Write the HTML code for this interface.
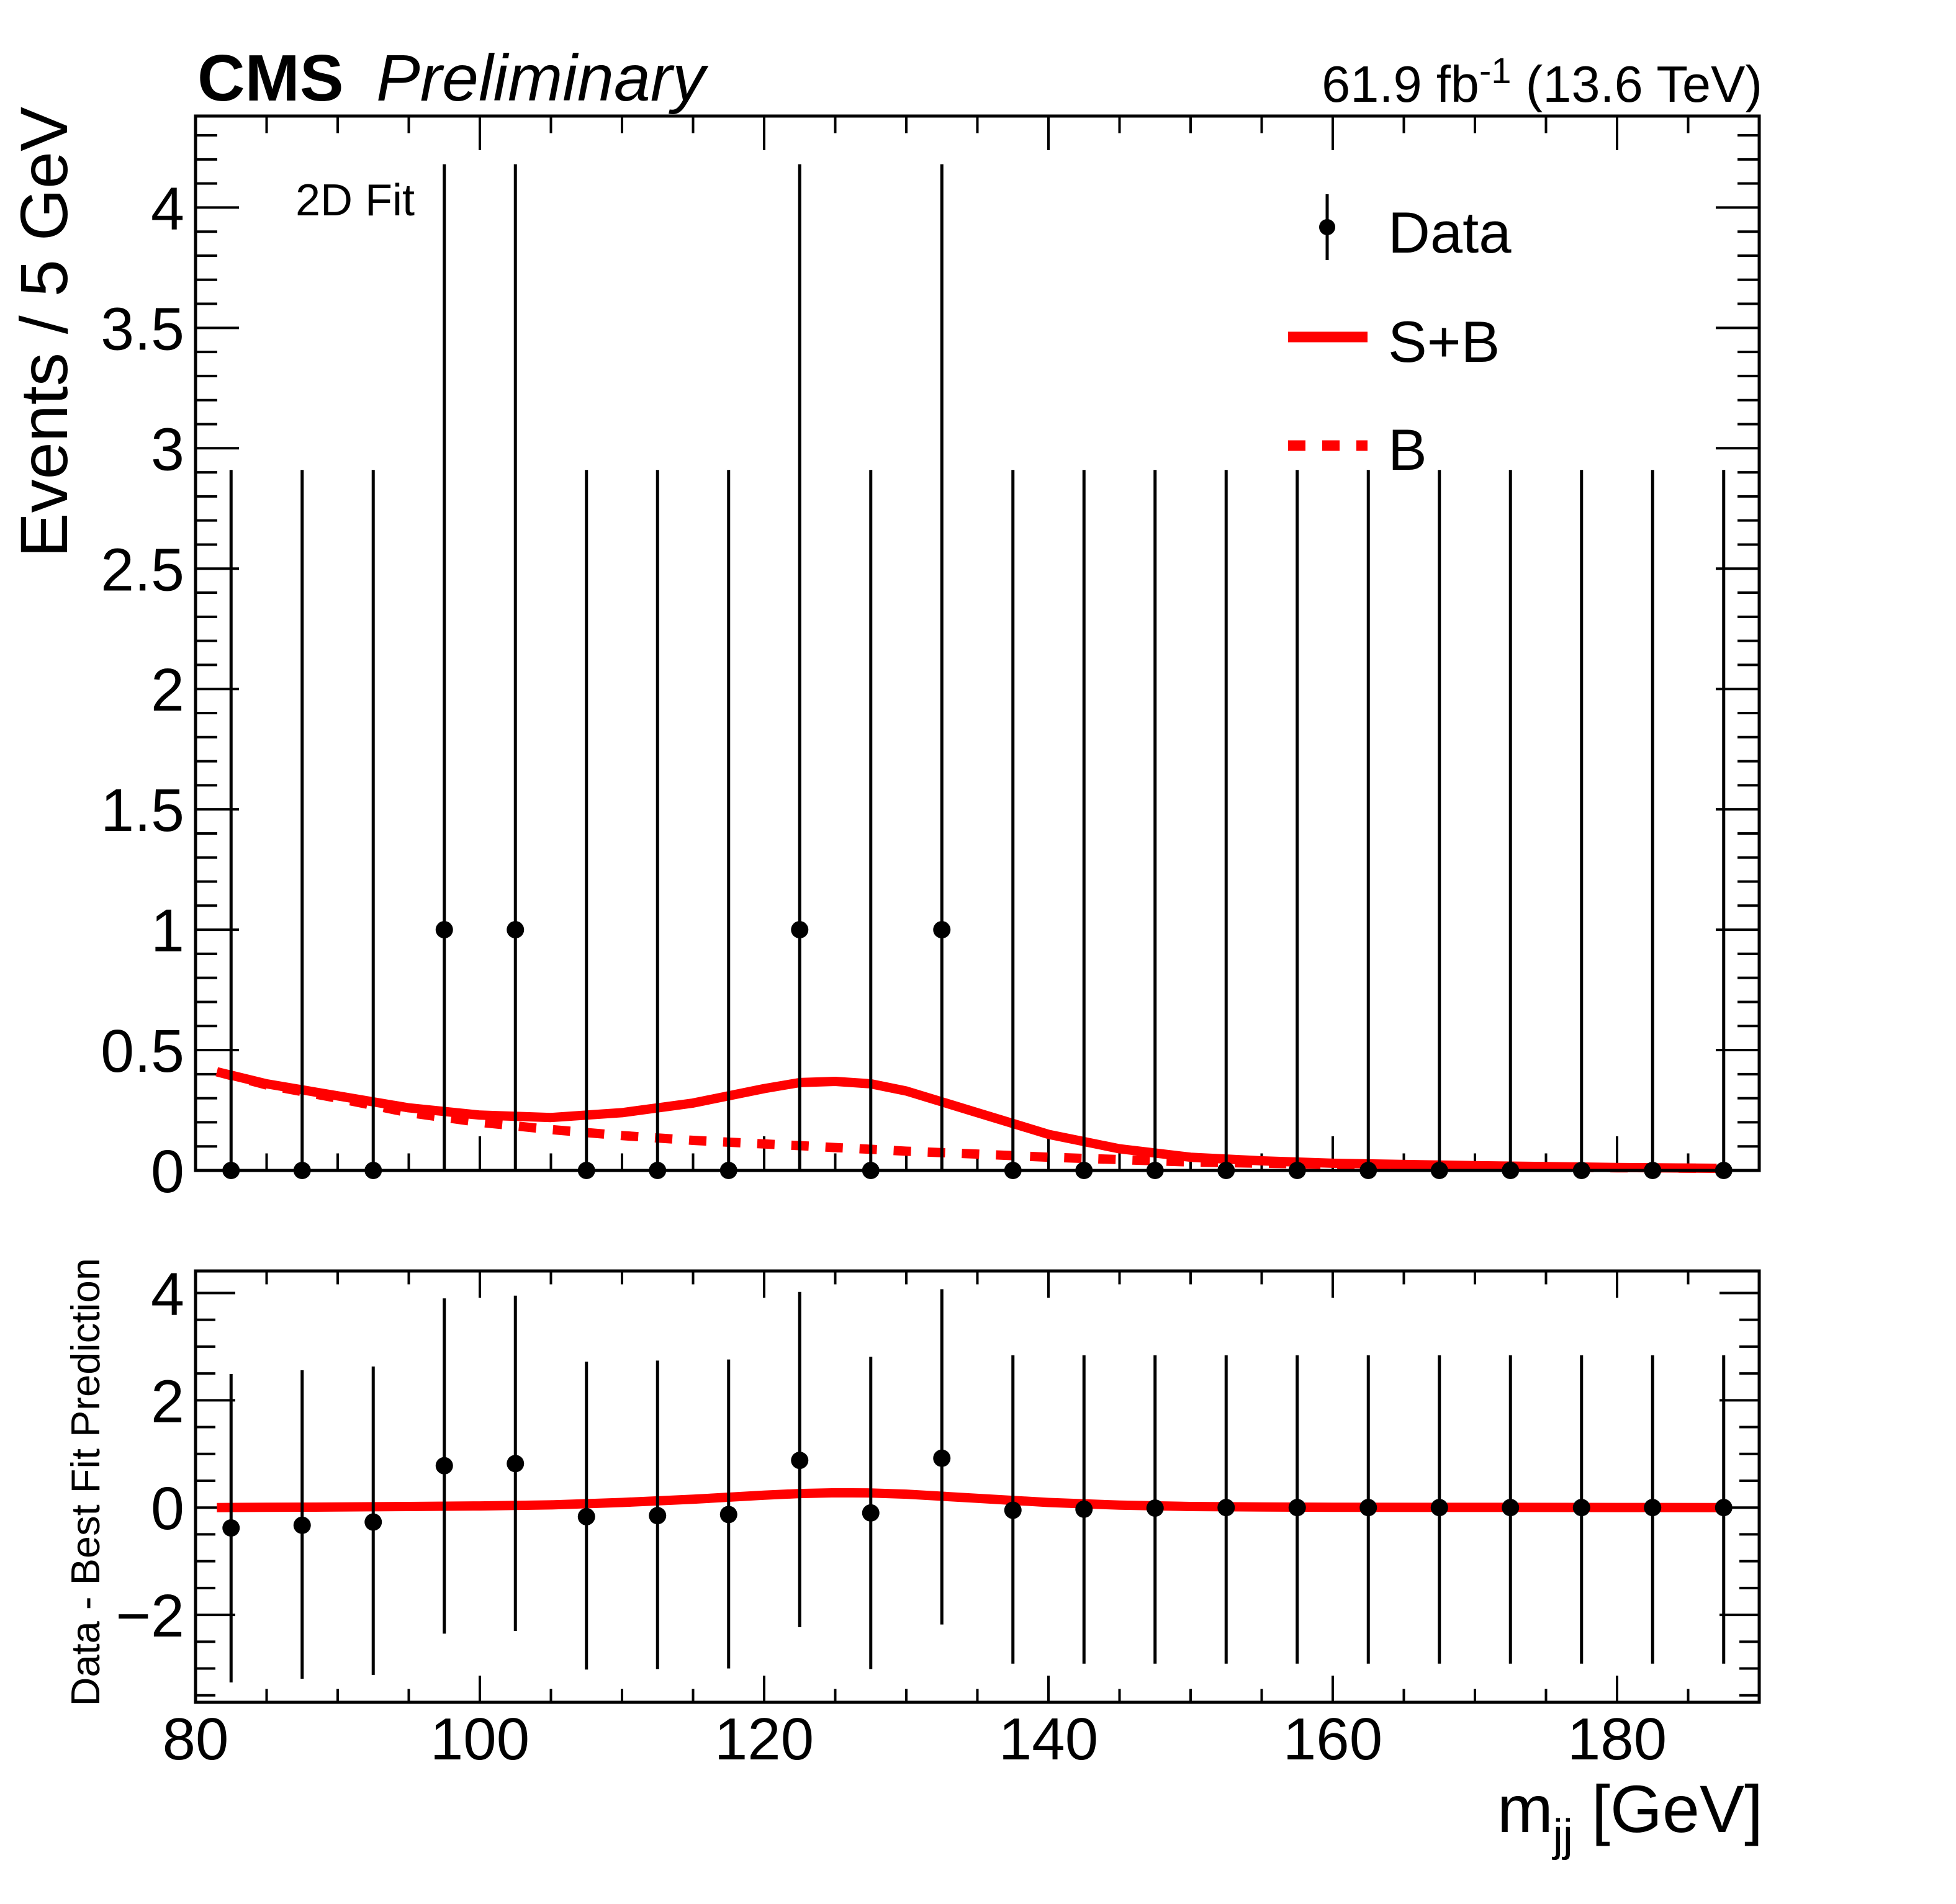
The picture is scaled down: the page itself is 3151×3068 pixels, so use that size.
<!DOCTYPE html>
<html><head><meta charset="utf-8"><style>
html,body{margin:0;padding:0;background:#fff}
svg{display:block;font-family:"Liberation Sans",sans-serif}
</style></head><body>
<svg id="chart" width="3151" height="3068" viewBox="0 0 3151 3068" xmlns="http://www.w3.org/2000/svg">
<g id="main"></g>
<g id="ratio"></g>
<g id="texts">
 <text x="318" y="162" font-size="106" font-weight="bold">CMS</text>
 <text x="606" y="162" font-size="106" font-style="italic">Preliminary</text>
 <text x="2839" y="164" font-size="83" text-anchor="end">61.9 fb<tspan dy="-30" font-size="58">-1</tspan><tspan dy="30"> (13.6 TeV)</tspan></text>
 <text x="476" y="347" font-size="72">2D Fit</text>
 <text transform="translate(108,172) rotate(-90)" font-size="108" text-anchor="end">Events / 5 GeV</text>
 <text transform="translate(160,2027) rotate(-90)" font-size="65" text-anchor="end">Data - Best Fit Prediction</text>
 <text x="2840" y="2952" font-size="108" text-anchor="end">m<tspan dy="30" font-size="72">jj</tspan><tspan dy="-30"> [GeV]</tspan></text>
 <g>
  <line x1="2138" y1="313" x2="2138" y2="419" stroke="#000" stroke-width="5"/>
  <circle cx="2138" cy="366" r="13" fill="#000"/>
  <text x="2236" y="407" font-size="94">Data</text>
  <line x1="2075" y1="543" x2="2203" y2="543" stroke="#f00" stroke-width="17"/>
  <text x="2236" y="583" font-size="94">S+B</text>
  <line x1="2075" y1="718" x2="2203" y2="718" stroke="#f00" stroke-width="17" stroke-dasharray="28,27"/>
  <text x="2236" y="757" font-size="94">B</text>
 </g>
</g>
</svg>
<script>
const binCenters = [82.5,87.5,92.5,97.5,102.5,107.5,112.5,117.5,122.5,127.5,132.5,137.5,142.5,147.5,152.5,157.5,162.5,167.5,172.5,177.5,182.5,187.5];
const dataCounts = [0,0,0,1,1,0,0,0,1,0,1,0,0,0,0,0,0,0,0,0,0,0];
const dataErrLow = [0,0,0,1,1,0,0,0,1,0,1,0,0,0,0,0,0,0,0,0,0,0];
const dataErrHigh = [2.91,2.91,2.91,3.18,3.18,2.91,2.91,2.91,3.18,2.91,3.18,2.91,2.91,2.91,2.91,2.91,2.91,2.91,2.91,2.91,2.91,2.91];
const curveX = [81.5,85,90,95,100,105,110,115,120,122.5,125,127.5,130,135,140,145,150,155,160,170,180,187];
const sbValues = [0.41,0.36,0.31,0.26,0.23,0.22,0.24,0.28,0.34,0.365,0.37,0.36,0.33,0.24,0.15,0.09,0.055,0.04,0.03,0.02,0.012,0.009];
const bValues = [0.41,0.355,0.30,0.24,0.20,0.17,0.145,0.125,0.11,0.103,0.095,0.088,0.08,0.068,0.055,0.045,0.035,0.03,0.025,0.016,0.011,0.009];
const ratioValues = [-0.38,-0.33,-0.27,0.78,0.82,-0.17,-0.15,-0.13,0.88,-0.1,0.92,-0.05,-0.03,-0.01,0,0,0,0,0,0,0,0];
const ratioErrHigh = [2.87,2.89,2.90,3.12,3.13,2.89,2.89,2.89,3.14,2.91,3.15,2.89,2.87,2.85,2.84,2.84,2.84,2.84,2.84,2.84,2.84,2.84];
const ratioErrLow = [2.88,2.86,2.85,3.13,3.12,2.85,2.86,2.87,3.11,2.91,3.10,2.86,2.88,2.90,2.91,2.91,2.91,2.91,2.91,2.91,2.91,2.91];
const xTickLabels = [80,100,120,140,160,180];
const mainYTickLabels = ['0','0.5','1','1.5','2','2.5','3','3.5','4'];
const ratioYTickLabels = ['\u22122','0','2','4'];

const NS='http://www.w3.org/2000/svg';
const L=315,R=2834;
const M={top:187,bot:1886,ymin:0,ymax:4.38};
const Q={top:2048,bot:2743,ymin:-3.63,ymax:4.41};
const xS=v=>L+(v-80)/(190-80)*(R-L);
const yM=v=>M.bot-(v-M.ymin)/(M.ymax-M.ymin)*(M.bot-M.top);
const yQ=v=>Q.bot-(v-Q.ymin)/(Q.ymax-Q.ymin)*(Q.bot-Q.top);
function mk(tag,attrs,parent){const e=document.createElementNS(NS,tag);for(const k in attrs)e.setAttribute(k,attrs[k]);parent.appendChild(e);return e;}
const main=document.getElementById('main'),ratio=document.getElementById('ratio');

function axes(g,top,bot,yf,ymin,ymax,major,nminor,labels,ylen,xlen,showX,prefix){
  for(let v=80;v<=190.001;v+=5){
    const isMaj=(v%20===0);const x=xS(v);const len=isMaj?xlen:xlen/2;
    let t=mk('line',{x1:x,y1:bot,x2:x,y2:bot-len,stroke:'#000','stroke-width':4},g);
    
    
    t=mk('line',{x1:x,y1:top,x2:x,y2:top+len,stroke:'#000','stroke-width':4},g);
    
    
  }
  const step=major/nminor;
  for(let i=Math.ceil(ymin/step-1e-6);i*step<=ymax+1e-9;i++){
    const v=i*step;const y=yf(v);const isMaj=(i%nminor===0);const len=isMaj?ylen:ylen/2;
    let t=mk('line',{x1:L,y1:y,x2:L+len,y2:y,stroke:'#000','stroke-width':4},g);
    
    
    t=mk('line',{x1:R,y1:y,x2:R-len,y2:y,stroke:'#000','stroke-width':4},g);
    
    
  }
  labels.forEach(s=>{
    const v=parseFloat(s.replace('\u2212','-'));
    const t=mk('text',{x:L-18,y:yf(v)+35,'font-size':97,'text-anchor':'end'},g);
    t.textContent=s;
    
    
  });
  if(showX){xTickLabels.forEach(v=>{
    const t=mk('text',{x:xS(v),y:2835,'font-size':96,'text-anchor':'middle'},g);
    t.textContent=v;
    
    
  });}
}
axes(main,M.top,M.bot,yM,M.ymin,M.ymax,0.5,5,mainYTickLabels,70,55,false,'main-');
axes(ratio,Q.top,Q.bot,yQ,Q.ymin,Q.ymax,2,4,ratioYTickLabels,64,43,true,'ratio-');

function pathFrom(xs,ys,yf){return xs.map((x,i)=>(i?'L':'M')+xS(x).toFixed(1)+','+yf(ys[i]).toFixed(1)).join(' ');}
let p=mk('path',{d:pathFrom(curveX,bValues,yM),fill:'none',stroke:'#f00','stroke-width':15,'stroke-dasharray':'28,27'},main);


p=mk('path',{d:pathFrom(curveX,sbValues,yM),fill:'none',stroke:'#f00','stroke-width':15,'stroke-linejoin':'round'},main);


const diff=sbValues.map((v,i)=>v-bValues[i]);
p=mk('path',{d:pathFrom(curveX,diff,yQ),fill:'none',stroke:'#f00','stroke-width':15},ratio);



binCenters.forEach((c,i)=>{
  const x=xS(c);
  let e=mk('line',{x1:x,y1:yM(dataCounts[i]-dataErrLow[i]),x2:x,y2:Math.max(M.top,yM(dataCounts[i]+dataErrHigh[i])),stroke:'#000','stroke-width':5},main);
  
  
  e=mk('circle',{cx:x,cy:yM(dataCounts[i]),r:14,fill:'#000'},main);
  
  
  e=mk('line',{x1:x,y1:yQ(ratioValues[i]-ratioErrLow[i]),x2:x,y2:yQ(ratioValues[i]+ratioErrHigh[i]),stroke:'#000','stroke-width':5},ratio);
  
  
  e=mk('circle',{cx:x,cy:yQ(ratioValues[i]),r:14,fill:'#000'},ratio);
  
  
});

let f=mk('rect',{x:L,y:M.top,width:R-L,height:M.bot-M.top,fill:'none',stroke:'#000','stroke-width':5},main);


f=mk('rect',{x:L,y:Q.top,width:R-L,height:Q.bot-Q.top,fill:'none',stroke:'#000','stroke-width':5},ratio);


</script>
</body></html>
